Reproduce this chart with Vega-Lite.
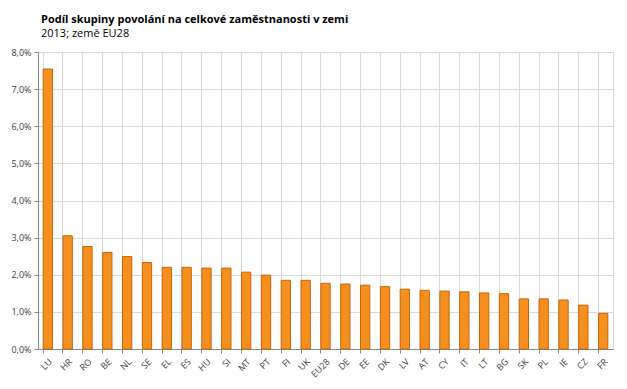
{
  "$schema": "https://vega.github.io/schema/vega-lite/v6.json",
  "autosize": {"type": "none"},
  "width": 575,
  "height": 297,
  "padding": {"left": 38, "top": 52, "right": 14, "bottom": 40},
  "background": "#ffffff",
  "title": {
    "text": "Podíl skupiny povolání na celkové zaměstnanosti v zemi",
    "subtitle": "2013; země EU28",
    "anchor": "start",
    "frame": "group",
    "dx": 3,
    "offset": 9,
    "font": "Open Sans",
    "fontSize": 11,
    "fontWeight": "bold",
    "color": "#000000",
    "subtitleFont": "Open Sans",
    "subtitleFontSize": 11,
    "subtitleColor": "#000000",
    "subtitlePadding": 3
  },
  "data": {
    "values": [
      {"country": "LU", "share": 0.0754},
      {"country": "HR", "share": 0.0305},
      {"country": "RO", "share": 0.0276},
      {"country": "BE", "share": 0.0260},
      {"country": "NL", "share": 0.0249},
      {"country": "SE", "share": 0.0233},
      {"country": "EL", "share": 0.0220},
      {"country": "ES", "share": 0.0220},
      {"country": "HU", "share": 0.0218},
      {"country": "SI", "share": 0.0218},
      {"country": "MT", "share": 0.0207},
      {"country": "PT", "share": 0.0199},
      {"country": "FI", "share": 0.0185},
      {"country": "UK", "share": 0.0185},
      {"country": "EU28", "share": 0.0177},
      {"country": "DE", "share": 0.0175},
      {"country": "EE", "share": 0.0172},
      {"country": "DK", "share": 0.0168},
      {"country": "LV", "share": 0.0161},
      {"country": "AT", "share": 0.0158},
      {"country": "CY", "share": 0.0156},
      {"country": "IT", "share": 0.0154},
      {"country": "LT", "share": 0.0151},
      {"country": "BG", "share": 0.0149},
      {"country": "SK", "share": 0.0135},
      {"country": "PL", "share": 0.0135},
      {"country": "IE", "share": 0.0132},
      {"country": "CZ", "share": 0.0118},
      {"country": "FR", "share": 0.0096}
    ]
  },
  "mark": {"type": "bar", "fill": "#f5901e", "stroke": "#c8650a", "strokeWidth": 1},
  "encoding": {
    "x": {
      "field": "country",
      "type": "nominal",
      "sort": null,
      "scale": {"paddingInner": 0.53, "paddingOuter": 0.26},
      "axis": {
        "title": null,
        "bandPosition": 0,
        "labelAngle": -45,
        "labelFontSize": 9,
        "labelFont": "Open Sans",
        "labelColor": "#404040",
        "labelPadding": 4,
        "grid": true,
        "gridColor": "#d9d9d9",
        "domainColor": "#868686",
        "tickColor": "#868686",
        "tickSize": 4
      }
    },
    "y": {
      "field": "share",
      "type": "quantitative",
      "scale": {"domain": [0, 0.08], "nice": false},
      "axis": {
        "title": null,
        "format": ".1%",
        "values": [0, 0.01, 0.02, 0.03, 0.04, 0.05, 0.06, 0.07, 0.08],
        "labelFontSize": 9,
        "labelFont": "Open Sans",
        "labelColor": "#404040",
        "labelPadding": 3,
        "gridColor": "#d9d9d9",
        "domainColor": "#868686",
        "tickColor": "#868686",
        "tickSize": 4
      }
    }
  },
  "config": {
    "locale": {
      "number": {"decimal": ",", "thousands": " ", "grouping": [3], "currency": ["", " €"]}
    },
    "view": {"stroke": "#d9d9d9"}
  }
}
